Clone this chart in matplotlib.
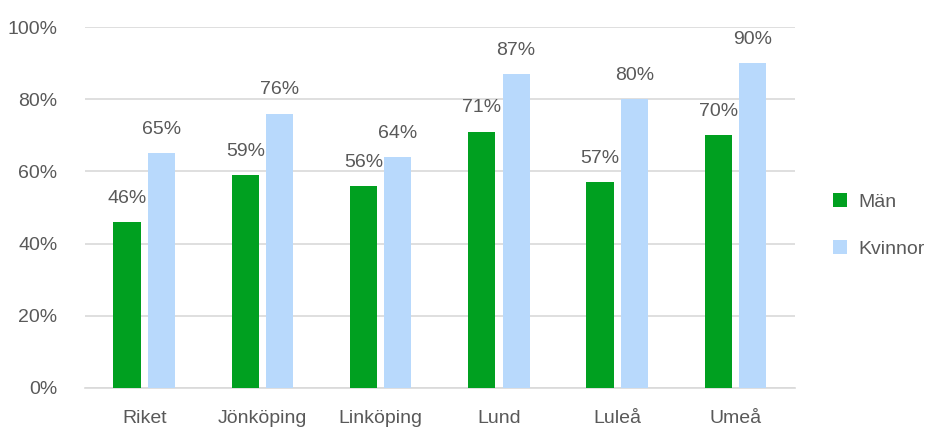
import matplotlib
matplotlib.use("Agg")
import matplotlib.pyplot as plt
import numpy as np

plt.rcParams['font.family'] = ['Liberation Sans', 'DejaVu Sans']

# data
stader = ["Riket", "Jönköping", "Linköping", "Lund", "Luleå", "Umeå"]
man = [46, 59, 56, 71, 57, 70]
kvinnor = [65, 76, 64, 87, 80, 90]
y_ticks = [0, 20, 40, 60, 80, 100]

gron = "#00A020"
bla = "#B8D9FC"
text_farg = "#595959"

fig = plt.figure(figsize=(9.25, 4.3), dpi=100)
ax = fig.add_axes([0.092, 0.098, 0.767, 0.839])

x = np.arange(len(stader))
w = 0.23
off = 0.145
b1 = ax.bar(x - off, man, w, color=gron, label="Män", zorder=3)
b2 = ax.bar(x + off, kvinnor, w, color=bla, label="Kvinnor", zorder=3)

# etiketter ovanfor staplarna
for rects, vals in [(b1, man), (b2, kvinnor)]:
    for r, v in zip(rects, vals):
        ax.annotate(f"{v}%", (r.get_x() + r.get_width() / 2, v),
                    xytext=(0, 11), textcoords="offset points",
                    ha="center", va="bottom", fontsize=14, color=text_farg)

ax.set_xlim(-0.5, len(stader) - 0.5)
ax.set_ylim(0, 100)
ax.set_yticks(y_ticks)
ax.set_yticklabels([f"{t}%" for t in y_ticks])
ax.set_xticks(x)
ax.set_xticklabels(stader)
ax.tick_params(axis="both", length=0, labelsize=14, colors=text_farg)
ax.tick_params(axis="y", pad=20)
ax.tick_params(axis="x", pad=16)
ax.grid(axis="y", color="#D9D9D9", linewidth=1.2, zorder=0)
for s in ["top", "right", "left"]:
    ax.spines[s].set_visible(False)
ax.spines["bottom"].set_color("#D9D9D9")
ax.spines["bottom"].set_linewidth(1.2)

leg = ax.legend(loc="center left", bbox_to_anchor=(1.03, 0.45), frameon=False,
                fontsize=14, handlelength=0.7, handleheight=0.7,
                labelspacing=1.5, handletextpad=0.6)
for t in leg.get_texts():
    t.set_color(text_farg)

fig.savefig("out.png", dpi=100)
